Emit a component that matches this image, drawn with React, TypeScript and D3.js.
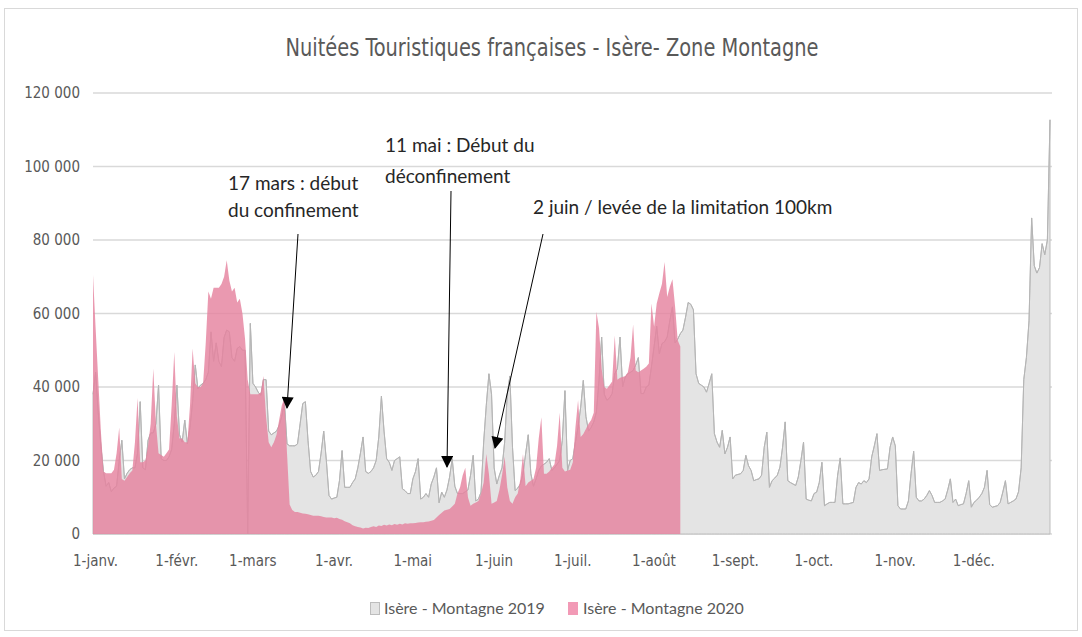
import * as d3 from 'd3';
import React from 'react';

// axe des dates : calendrier 2020 (366 jours, index 0 = 1er janvier)
const monthLabels = ['1-janv.', '1-févr.', '1-mars', '1-avr.', '1-mai', '1-juin', '1-juil.', '1-août', '1-sept.', '1-oct.', '1-nov.', '1-déc.'];
const monthStarts = [0, 31, 60, 91, 121, 152, 182, 213, 244, 274, 305, 335];
const yTicks = [0, 20000, 40000, 60000, 80000, 100000, 120000];

// Isère - Montagne 2019, en milliers de nuitées (le 29 févr. n'existe pas : 0)
const m2019Jan = [38, 44, 33, 24, 17, 13, 14, 11.5, 12.5, 13, 20, 25.5, 15, 16.5, 17.5, 18, 18, 22, 36, 18, 17.5, 25.5, 27.5, 27.5, 30, 40.5, 20.5, 20, 20, 21, 23];
const m2019Feb = [30, 40.5, 27, 25, 31, 24.5, 29, 36, 46, 39.5, 40.5, 41, 42, 44, 55, 47, 52, 47, 45.5, 53.5, 55.5, 55, 48, 47, 50.5, 51, 50, 50, 0];
const m2019Mar = [57.3, 41, 40, 38.6, 37.7, 42, 42, 28, 27, 27.5, 28, 29.5, 32, 36, 24.5, 24, 24, 24, 24.5, 30, 35.5, 36, 25.5, 17, 15.5, 16, 17, 22, 28, 20, 10.5];
const m2019Apr = [9.5, 9.8, 10, 14.5, 22.7, 12.7, 12.7, 12.7, 14, 15, 18, 22, 26.4, 17, 16.5, 17, 18, 20, 26.4, 37.5, 28, 20.5, 19.5, 17.3, 20, 20.5, 21, 12.3, 11.8, 11];
const m2019May = [11, 15, 17, 20.5, 9.5, 10, 11, 10, 13.6, 15.5, 18, 8.5, 11.4, 10, 12, 15.5, 20.5, 13, 11, 11, 11, 11.5, 12, 16, 21.4, 9, 9.5, 11.4, 25, 35, 43.6];
const m2019Jun = [38, 18, 13.6, 16, 18, 25, 38, 43, 23.6, 11.8, 12.5, 13.6, 16.4, 21.8, 27, 16.4, 13, 15, 17.3, 18.5, 19, 19.5, 20.5, 17.3, 18, 19, 20, 25.5, 39, 17.3];
const m2019Jul = [20, 20.5, 25, 29, 34.5, 41.8, 32, 28, 29, 30.5, 33.2, 41.8, 53.6, 38, 36.4, 37, 38.2, 43.6, 45, 53.6, 40, 42.7, 43.6, 44, 44.5, 46, 48, 38.2, 38.2, 40, 40.5];
const m2019Aug = [45.5, 51, 56.5, 49, 51.8, 52.3, 53.6, 58, 61.8, 52, 53, 54.5, 55.5, 59, 63, 62.5, 61, 43.6, 41, 40.5, 40, 38.6, 41, 43.6, 27.3, 25, 23.6, 28.2, 21.8, 23.6, 26.4];
const m2019Sep = [15, 16, 16.2, 16.4, 17.3, 21.4, 18.6, 17.3, 14.5, 14.8, 15, 16, 23.6, 27.7, 12.7, 14.5, 15.2, 16, 18.2, 23.6, 30.5, 14.5, 14, 13.6, 13.2, 15.5, 20, 25, 9.5, 9.2];
const m2019Oct = [9, 11, 11.4, 14, 19.5, 7.7, 8.2, 8.6, 8.6, 8.6, 16, 20.7, 8.2, 8.2, 8.2, 8.4, 8.6, 12.7, 14, 13.6, 14.5, 14, 15, 21, 24, 27.3, 17.3, 17.5, 17.6, 17.7, 23.6];
const m2019Nov = [26.4, 24, 7.7, 6.8, 6.8, 6.8, 9, 16.4, 22.5, 10, 9, 9, 9.5, 10.5, 11.8, 10.5, 8.6, 8.6, 8.6, 9, 9.5, 12, 15, 8.6, 9.5, 7.7, 8, 8.2, 11, 14.5];
const m2019Dec = [7.3, 8.6, 9.2, 10, 11, 12.7, 17.3, 8, 7.3, 7.5, 7.7, 8.6, 11.4, 14.5, 8.2, 8.6, 9, 9.5, 11.5, 18, 42, 48, 58, 86, 73, 71, 72.5, 79, 76, 80, 112.7];

// Isère - Montagne 2020, en milliers de nuitées (jusqu'au 11 août)
const m2020Jan = [70.5, 56, 42, 28, 17, 16.5, 16.5, 16.5, 17.5, 22, 29, 15, 14.5, 15.5, 16.5, 17.3, 25, 37, 19.5, 19.5, 20, 24, 30, 45, 30, 22, 21.5, 21, 22, 23, 35];
const m2020Feb = [49.5, 32, 26, 26, 25, 25, 35, 50.5, 41, 40, 40, 41, 52, 66, 64, 67, 67, 67, 68, 70, 74.5, 69, 66, 67, 63, 64, 60, 53, 42];
const m2020Mar = [38, 38, 38, 38, 38.5, 43, 32, 25, 23.6, 25, 27, 31, 35, 37, 22, 8, 6.5, 6, 6, 5.8, 5.6, 5.5, 5.4, 5.2, 5, 5, 5, 4.8, 4.6, 4.5, 4.5];
const m2020Apr = [4.5, 4.3, 4.4, 4.1, 3.9, 3.5, 3.2, 2.9, 2.4, 2.1, 1.9, 1.8, 1.5, 1.7, 1.6, 1.9, 2.1, 1.9, 2.3, 2.2, 2.5, 2.3, 2.6, 2.4, 2.7, 2.5, 2.8, 2.6, 2.9, 2.8];
const m2020May = [2.9, 2.9, 3, 3.1, 3.2, 3.2, 3.3, 3.4, 3.6, 3.8, 4.5, 5.2, 5.8, 6.4, 6.6, 6.8, 7.5, 8.2, 11, 12.7, 16, 18, 10, 7.7, 8.2, 8.6, 9, 11, 14, 21.8, 16.4];
const m2020Jun = [8.2, 8.6, 9, 12, 16, 21, 12.7, 9, 8.2, 10, 11, 15, 21.8, 13, 14, 14.5, 15, 18, 26, 31.8, 16.4, 16.4, 17, 18, 19, 24, 33, 18, 17, 17.3];
const m2020Jul = [17.5, 19.5, 29, 36.4, 26.4, 27.2, 28.6, 30, 31, 33, 60.5, 56, 45, 40, 39.5, 40.5, 41.5, 54, 42, 42.5, 42.7, 43, 44, 48, 57, 44.5, 44, 44.5, 45, 45.5, 46.4];
const m2020Aug = [62.7, 56.4, 62.7, 65.5, 68, 74, 64.5, 67.3, 69.3, 62, 52.7, 51];

const series2019 = [m2019Jan, m2019Feb, m2019Mar, m2019Apr, m2019May, m2019Jun, m2019Jul, m2019Aug, m2019Sep, m2019Oct, m2019Nov, m2019Dec].flat().map(v => v * 1000);
const series2020 = [m2020Jan, m2020Feb, m2020Mar, m2020Apr, m2020May, m2020Jun, m2020Jul, m2020Aug].flat().map(v => v * 1000);

const W = 1082;
const H = 637;
const narrow = '"Liberation Sans Narrow", "DejaVu Sans Condensed", "Arial Narrow", sans-serif';
const body = 'Lato, "Open Sans", sans-serif';

const App = () => {
    const x = d3.scaleLinear().domain([0, 365]).range([93, 1050]);
    const y = d3.scaleLinear().domain([0, 120000]).range([534, 93]);

    const area = d3.area<number>()
        .x((d, i) => x(i))
        .y0(y(0))
        .y1(d => y(d));
    const line = d3.line<number>()
        .x((d, i) => x(i))
        .y(d => y(d));

    const fmt = (v: number) => d3.format(',')(v).replace(/,/g, ' ');

    // flèches des annotations
    const arrows = [
        { x1: 298, y1: 234, x2: 287, y2: 408 },
        { x1: 451, y1: 191, x2: 447, y2: 467 },
        { x1: 543, y1: 234, x2: 495, y2: 448 },
    ];

    return (
        <svg width={W} height={H} style={{ position: 'absolute', left: 0, top: 0, background: '#fff' }}>
            <defs>
                <marker id="head" viewBox="0 0 12 12" refX="11" refY="6" markerWidth="13" markerHeight="12"
                    markerUnits="userSpaceOnUse" orient="auto">
                    <path d="M0,0 L12,6 L0,12 Z" fill="#000" />
                </marker>
            </defs>
            <rect x={4.5} y={8.5} width={1073} height={622} fill="#fff" stroke="#d9d9d9" />

            <text x={552} y={56} textAnchor="middle" fontFamily={narrow} fontSize={24} fill="#595959"
                textLength={533} lengthAdjust="spacingAndGlyphs">
                Nuitées Touristiques françaises - Isère- Zone Montagne
            </text>

            {yTicks.map(t => (
                <g key={t}>
                    <line x1={93} x2={1052} y1={y(t)} y2={y(t)} stroke="#d9d9d9" strokeWidth={1.3} />
                    <text x={80} y={y(t)} dy="0.35em" textAnchor="end" fontFamily={narrow} fontSize={15} fill="#595959">
                        {fmt(t)}
                    </text>
                </g>
            ))}

            <path d={area(series2019) ?? ''} fill="#e4e4e4" stroke="#bdbdbd" strokeWidth={1} />
            <path d={line(series2019) ?? ''} fill="none" stroke="#b5b5b5" strokeWidth={1} />
            <path d={area(series2020) ?? ''} fill="#e5829f" fillOpacity={0.82} />

            {monthStarts.map((m, i) => (
                <text key={m} x={x(m) + 2.5} y={561} dy="0.35em" textAnchor="middle" fontFamily={narrow} fontSize={15} fill="#595959">
                    {monthLabels[i]}
                </text>
            ))}

            <g fontFamily={body} fontSize={19} fill="#262626">
                <text x={228} y={190}>17 mars : début</text>
                <text x={228} y={217}>du confinement</text>
                <text x={385} y={152}>11 mai : Début du</text>
                <text x={385} y={183}>déconfinement</text>
                <text x={533} y={214}>2 juin / levée de la limitation 100km</text>
            </g>
            {arrows.map((a, i) => (
                <line key={i} x1={a.x1} y1={a.y1} x2={a.x2} y2={a.y2} stroke="#000" strokeWidth={1} markerEnd="url(#head)" />
            ))}

            <g fontFamily={body} fontSize={16} fill="#595959">
                <rect x={370.5} y={602.5} width={9} height={12} fill="#e4e4e4" stroke="#bdbdbd" />
                <text x={384} y={608} dy="0.35em">Isère - Montagne 2019</text>
                <rect x={568} y={602} width={10} height={13} fill="#f29ab6" />
                <text x={583} y={608} dy="0.35em">Isère - Montagne 2020</text>
            </g>
        </svg>
    );
};

export default App;
